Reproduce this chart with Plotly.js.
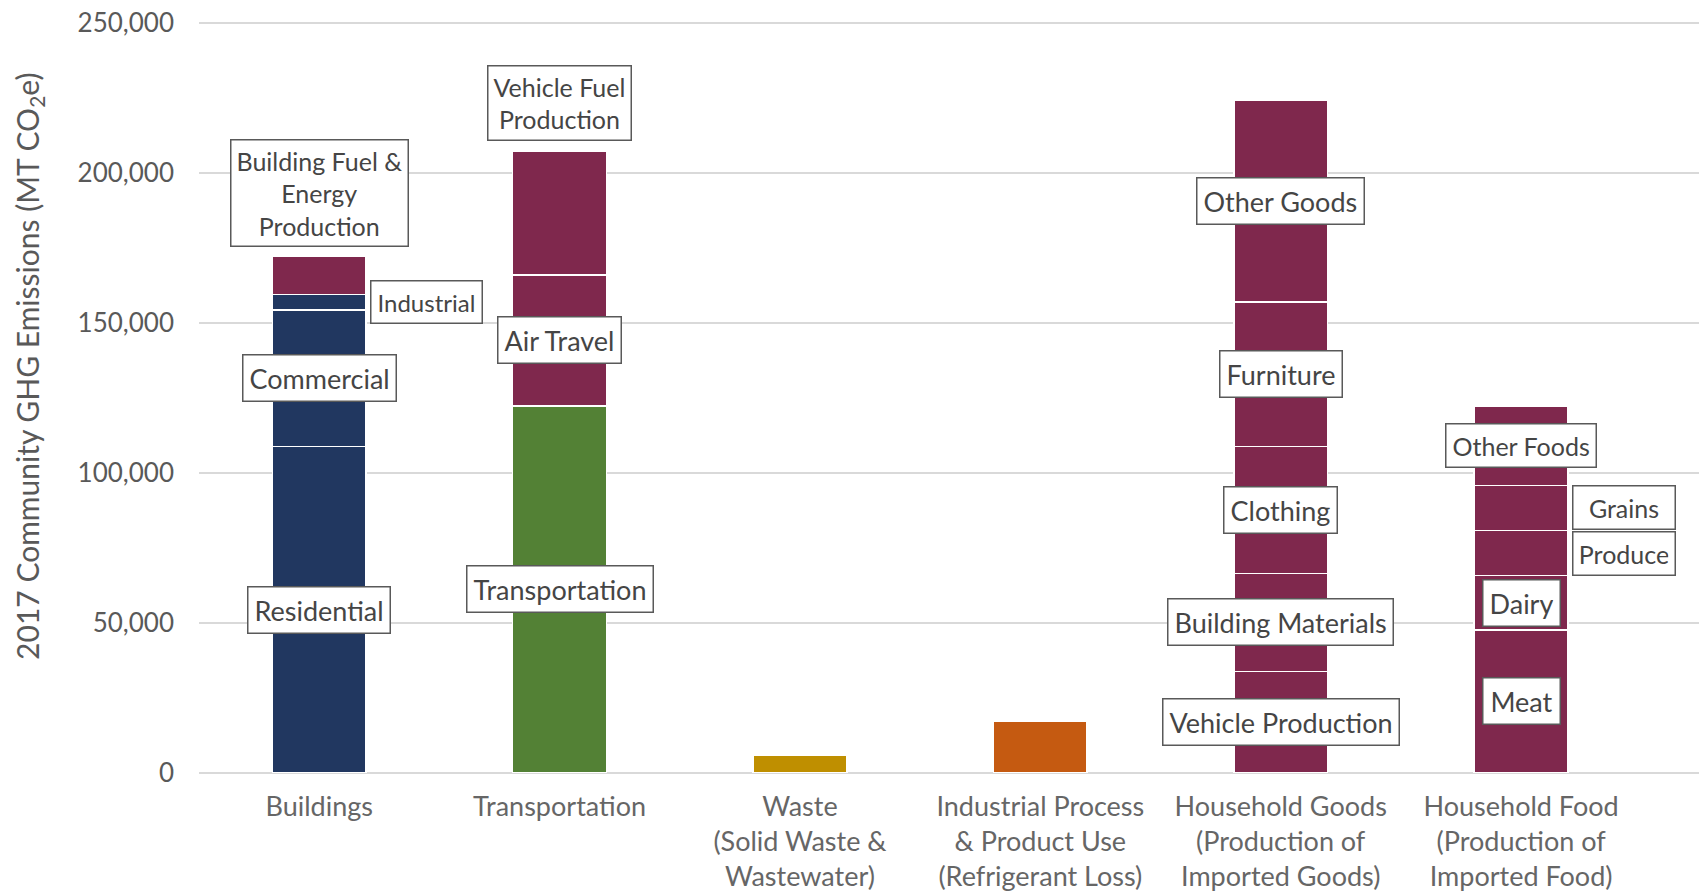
<!DOCTYPE html>
<html>
<head>
<meta charset="utf-8">
<script src="https://cdn.plot.ly/plotly-3.0.1.min.js"></script>
<style>
  html, body { margin: 0; padding: 0; background: #ffffff; }
  #chart { width: 1699px; height: 895px; }
</style>
</head>
<body>
<div id="chart"></div>
<script>
// ---- Data ----
const categories = [
  "Buildings",
  "Transportation",
  "Waste<br>(Solid Waste &<br>Wastewater)",
  "Industrial Process<br>& Product Use<br>(Refrigerant Loss)",
  "Household Goods<br>(Production of<br>Imported Goods)",
  "Household Food<br>(Production of<br>Imported Food)"
];

// segment -> category index (stacked bottom to top)
const segCategory = [0, 0, 0, 0, 1, 1, 1, 2, 3, 4, 4, 4, 4, 4, 5, 5, 5, 5, 5];
const segNames = [
  "Residential", "Commercial", "Industrial", "Building Fuel &<br>Energy<br>Production",
  "Transportation", "Air Travel", "Vehicle Fuel<br>Production",
  "Waste", "Industrial Process",
  "Vehicle Production", "Building Materials", "Clothing", "Furniture", "Other Goods",
  "Meat", "Dairy", "Produce", "Grains", "Other Foods"
];
const segValues = [
  108800, 45500, 5200, 12600,
  122400, 43600, 41400,
  5800, 17400,
  33900, 32600, 42400, 48100, 67100,
  47700, 18100, 15000, 15100, 26400
];
const yTickValues = [0, 50000, 100000, 150000, 200000, 250000];
const yTitle = "2017 Community GHG Emissions (MT CO<sub>2</sub>e)";

// ---- Styles ----
const palette = {navy: "#213760", maroon: "#7F284D", green: "#538135", gold: "#BF8F00", orange: "#C55A11"};
const segColorKey = [
  "navy", "navy", "navy", "maroon",
  "green", "maroon", "maroon",
  "gold", "orange",
  "maroon", "maroon", "maroon", "maroon", "maroon",
  "maroon", "maroon", "maroon", "maroon", "maroon"
];
// where each segment's label box goes
const labelPlacement = [
  "center", "center", "right", "top",
  "center", "center", "top",
  "none", "none",
  "center", "center", "center", "center", "center",
  "center", "center", "right", "right", "center"
];
const labelFontSize = [
  27, 27, 24, 25,
  27, 27, 25,
  0, 0,
  27, 27, 27, 27, 27,
  27, 27, 25, 25, 25
];
const labelBoxWidth = [
  null, null, null, null,
  null, null, null,
  null, null,
  null, null, null, null, null,
  64, 64, 89, 89, null
];

const FONT = "Lato, 'Open Sans', sans-serif";
const bargap = 0.61;
const halfBar = (1 - bargap) / 2;

// ---- Build traces ----
const traces = segValues.map((v, i) => ({
  type: "bar",
  x: [categories[segCategory[i]]],
  y: [v],
  name: segNames[i].replace(/<br>/g, " "),
  marker: {color: palette[segColorKey[i]], line: {color: "#ffffff", width: 1.5}},
  hoverinfo: "skip"
}));

// ---- Label boxes computed from stacked values ----
const running = categories.map(() => 0);
const annotations = [];
segValues.forEach((v, i) => {
  const c = segCategory[i];
  const base = running[c];
  running[c] += v;
  const p = labelPlacement[i];
  if (p === "none") return;
  const multiLine = segNames[i].indexOf("<br>") >= 0;
  const a = {
    text: segNames[i],
    xref: "x", yref: "y",
    showarrow: false,
    font: {family: FONT, size: labelFontSize[i], color: "#454545"},
    bgcolor: "#ffffff",
    bordercolor: "#595959",
    borderwidth: 1.5,
    borderpad: multiLine ? 5 : 6,
    align: "center"
  };
  if (labelBoxWidth[i]) a.width = labelBoxWidth[i];
  if (p === "center") {
    a.x = c; a.y = base + v / 2; a.xanchor = "center"; a.yanchor = "middle";
  } else if (p === "right") {
    a.x = c + halfBar; a.y = base + v / 2; a.xanchor = "left"; a.yanchor = "middle"; a.xshift = 4;
  } else if (p === "top") {
    a.x = c; a.y = base + v; a.xanchor = "center"; a.yanchor = "bottom"; a.yshift = 10;
  }
  annotations.push(a);
});

// y-axis title as annotation
annotations.push({
  text: yTitle,
  xref: "paper", yref: "paper",
  x: -0.113, y: 0.54,
  xanchor: "center", yanchor: "middle",
  textangle: -90,
  showarrow: false,
  font: {family: FONT, size: 30, color: "#595959"}
});

const layout = {
  width: 1699, height: 895,
  margin: {l: 199, r: 0, t: 20, b: 122},
  paper_bgcolor: "#ffffff",
  plot_bgcolor: "#ffffff",
  barmode: "stack",
  bargap: bargap,
  showlegend: false,
  font: {family: FONT, color: "#595959"},
  xaxis: {
    type: "category",
    categoryorder: "array",
    categoryarray: categories,
    range: [-0.5, 5.74],
    showgrid: false,
    zeroline: false,
    showline: false,
    ticks: "",
    ticklabelstandoff: 15,
    tickfont: {family: FONT, size: 27, color: "#666666"},
    fixedrange: true
  },
  yaxis: {
    range: [0, 251000],
    tickvals: yTickValues,
    tickformat: ",d",
    showgrid: true,
    gridcolor: "#D9D9D9",
    gridwidth: 1.5,
    zeroline: true,
    zerolinecolor: "#D9D9D9",
    zerolinewidth: 1.5,
    showline: false,
    ticks: "",
    ticklabelstandoff: 24,
    tickfont: {family: FONT, size: 26, color: "#595959"},
    fixedrange: true
  },
  annotations: annotations
};

Plotly.newPlot("chart", traces, layout, {displayModeBar: false, staticPlot: true});
</script>
</body>
</html>
